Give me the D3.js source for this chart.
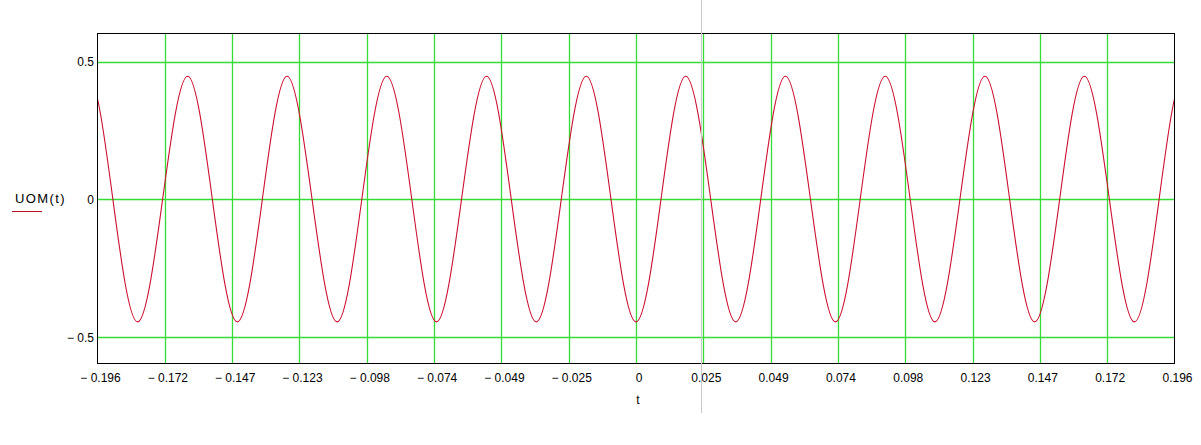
<!DOCTYPE html>
<html><head><meta charset="utf-8">
<script src="https://cdn.jsdelivr.net/npm/d3@7/dist/d3.min.js"></script>
<style>body{margin:0;background:#fff}svg{display:block}text{font-family:"Liberation Sans",Arial,sans-serif;font-size:12px;fill:#000}</style>
</head><body><svg id="c" width="1201" height="445"></svg>
<script>
// Tick labels as printed on the chart
const xTickLabels = ["\u2212 0.196","\u2212 0.172","\u2212 0.147","\u2212 0.123","\u2212 0.098","\u2212 0.074","\u2212 0.049","\u2212 0.025","0","0.025","0.049","0.074","0.098","0.123","0.147","0.172","0.196"];
const yTickValues = [0.5, 0, -0.5];
const yTickLabels = ["0.5", "0", "\u2212 0.5"];
// Curve samples (extrema and zero crossings), t in s
const tValues = [-0.2177,-0.2086,-0.1995,-0.1904,-0.1814,-0.1723,-0.1632,-0.1542,-0.1451,-0.1360,-0.1270,-0.1179,-0.1088,-0.0998,-0.0907,-0.0816,-0.0726,-0.0635,-0.0544,-0.0454,-0.0363,-0.0272,-0.0181,-0.0091,0,0.0091,0.0181,0.0272,0.0363,0.0454,0.0544,0.0635,0.0726,0.0816,0.0907,0.0998,0.1088,0.1179,0.1270,0.1360,0.1451,0.1542,0.1632,0.1723,0.1814,0.1904,0.1995,0.2086,0.2177];
const uomValues = [-0.445,0,0.447,0,-0.445,0,0.447,0,-0.445,0,0.447,0,-0.445,0,0.447,0,-0.445,0,0.447,0,-0.445,0,0.447,0,-0.445,0,0.447,0,-0.445,0,0.447,0,-0.445,0,0.447,0,-0.445,0,0.447,0,-0.445,0,0.447,0,-0.445,0,0.447,0,-0.445];
const cursorT = 0.0238;

const svg = d3.select("#c");
const L = 97.5, R = 1174.5, T = 33.5, B = 363.5;
const x = d3.scaleLinear().domain([-0.196, 0.196]).range([L, R]);
const y = d3.scaleLinear().domain([-0.596, 0.602]).range([B, T]);
const xTickVals = xTickLabels.map((d, i) => -0.196 + i * 0.392 / (xTickLabels.length - 1));
const green = "#36dc36";

svg.append("defs").append("clipPath").attr("id","clip").append("rect")
  .attr("x", L).attr("y", T).attr("width", R - L).attr("height", B - T);

// grid
const g = svg.append("g");
g.selectAll(".vx").data(xTickVals.slice(1, -1)).join("line")
  .attr("x1", d => Math.round(x(d)) + 0.5).attr("x2", d => Math.round(x(d)) + 0.5)
  .attr("y1", T).attr("y2", B).attr("stroke", green).attr("stroke-width", 1.3);
g.selectAll(".hy").data(yTickValues).join("line")
  .attr("x1", L).attr("x2", R)
  .attr("y1", d => Math.round(y(d)) + 0.5).attr("y2", d => Math.round(y(d)) + 0.5)
  .attr("stroke", green).attr("stroke-width", 1.3);

// curve
const line = d3.line().x((d, i) => x(tValues[i])).y(d => y(d)).curve(d3.curveNatural);
svg.append("path").datum(uomValues).attr("clip-path", "url(#clip)")
  .attr("d", line).attr("fill", "none").attr("stroke", "#cc1030").attr("stroke-width", 1.1);

// frame
svg.append("rect").attr("x", L).attr("y", T).attr("width", R - L).attr("height", B - T)
  .attr("fill", "none").attr("stroke", "#000").attr("stroke-width", 1);

// x tick labels
svg.selectAll(".xl").data(xTickLabels).join("text")
  .attr("x", (d, i) => x(xTickVals[i]) + 3).attr("y", 382)
  .attr("text-anchor", "middle").text(d => d);
// y tick labels
svg.selectAll(".yl").data(yTickLabels).join("text")
  .attr("x", 94).attr("y", (d, i) => y(yTickValues[i]) + 4.5)
  .attr("text-anchor", "end").text(d => d);

// axis title and legend
svg.append("text").attr("x", 638).attr("y", 404).attr("text-anchor", "middle").text("t");
svg.append("text").attr("x", 15).attr("y", 203).style("font-size", "13px")
  .style("letter-spacing", "1.4px").text("UOM(t)");
svg.append("line").attr("x1", 12).attr("x2", 42).attr("y1", 211.5).attr("y2", 211.5)
  .attr("stroke", "#b01020").attr("stroke-width", 1);

// cursor line
svg.append("line").attr("x1", Math.round(x(cursorT)) + 0.5).attr("x2", Math.round(x(cursorT)) + 0.5)
  .attr("y1", 0).attr("y2", 413).attr("stroke", "#c8c8c8").attr("stroke-width", 1);
</script></body></html>
